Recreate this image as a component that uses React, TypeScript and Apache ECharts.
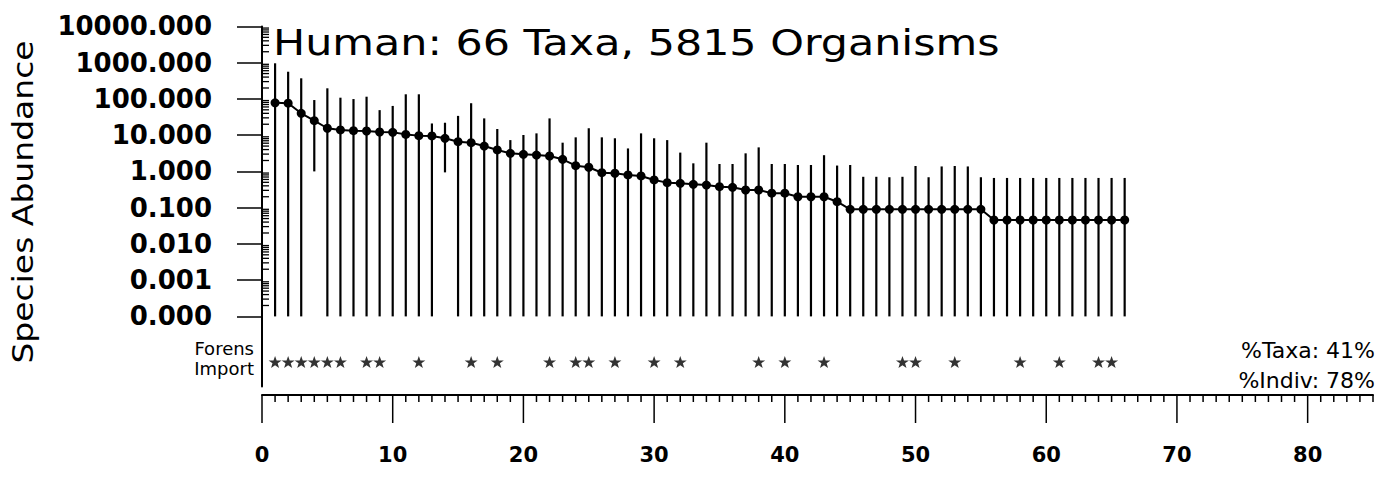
import React, { useEffect, useRef } from "react";
import * as echarts from "echarts";

// Rank of each taxon (1..66)
const ranks = [
  1, 2, 3, 4, 5, 6, 7, 8, 9, 10, 11, 12, 13, 14, 15, 16, 17, 18, 19, 20, 21, 22,
  23, 24, 25, 26, 27, 28, 29, 30, 31, 32, 33, 34, 35, 36, 37, 38, 39, 40, 41, 42,
  43, 44, 45, 46, 47, 48, 49, 50, 51, 52, 53, 54, 55, 56, 57, 58, 59, 60, 61, 62,
  63, 64, 65, 66,
];

// Median species abundance per rank
const medians = [
  78, 76, 40, 25, 15.5, 13.9, 13.3, 13.0, 12.2, 12.0, 10.5, 9.7, 9.5, 8.2, 6.6,
  6.2, 5.0, 3.9, 3.16, 2.96, 2.83, 2.66, 2.16, 1.44, 1.3, 0.92, 0.89, 0.8, 0.75,
  0.58, 0.49, 0.47, 0.44, 0.42, 0.38, 0.364, 0.307, 0.307, 0.25, 0.25, 0.2, 0.2,
  0.2, 0.146, 0.09, 0.09, 0.09, 0.09, 0.09, 0.09, 0.09, 0.09, 0.09, 0.09, 0.09,
  0.0456, 0.0456, 0.0456, 0.0456, 0.0456, 0.0456, 0.0456, 0.0456, 0.0456, 0.0456,
  0.0456,
];

// Upper end of range bar per rank
const upper = [
  960, 562, 370, 93, 196, 108, 99, 115, 49, 64, 134, 134, 21, 22, 34, 76, 29,
  14.8, 7.3, 10.1, 11.2, 29, 6.2, 8.7, 15.5, 8.7, 8.2, 4.3, 11.2, 8.2, 7.3, 3.3,
  1.67, 6.2, 1.6, 1.6, 3.15, 4.6, 1.6, 1.6, 1.5, 1.5, 2.8, 1.45, 1.5, 0.71, 0.71,
  0.69, 0.71, 1.41, 0.69, 1.37, 1.41, 1.37, 0.69, 0.66, 0.66, 0.66, 0.66, 0.66,
  0.66, 0.66, 0.66, 0.66, 0.66, 0.66,
];

// Lower end of range bar per rank
const lower = [
  0.0001, 0.0001, 0.0001, 1.0, 0.0001, 0.0001, 0.0001, 0.0001, 0.0001, 0.0001,
  0.0001, 0.0001, 0.0001, 0.94, 0.0001, 0.0001, 0.0001, 0.0001, 0.0001, 0.0001,
  0.0001, 0.0001, 0.0001, 0.0001, 0.0001, 0.0001, 0.0001, 0.0001, 0.0001, 0.0001,
  0.0001, 0.0001, 0.0001, 0.0001, 0.0001, 0.0001, 0.0001, 0.0001, 0.0001, 0.0001,
  0.0001, 0.0001, 0.0001, 0.0001, 0.0001, 0.0001, 0.0001, 0.0001, 0.0001, 0.0001,
  0.0001, 0.0001, 0.0001, 0.0001, 0.0001, 0.0001, 0.0001, 0.0001, 0.0001, 0.0001,
  0.0001, 0.0001, 0.0001, 0.0001, 0.0001, 0.0001,
];

// Ranks flagged as forensically important
const forensRanks = [
  1, 2, 3, 4, 5, 6, 8, 9, 12, 16, 18, 22, 24, 25, 27, 30, 32, 38, 40, 43, 49,
  50, 53, 58, 61, 64, 65,
];

const titleText = "Human: 66 Taxa, 5815 Organisms";
const yName = "Species Abundance";
const rowLabels = ["Forens", "Import"];
const summaryLabels = ["%Taxa: 41%", "%Indiv: 78%"];

const FONT = "DejaVu Sans";
const STAR =
  "path://M100 0 L123.5 67.6 L195.1 69.1 L138 112.4 L158.8 180.9 L100 140 L41.2 180.9 L62 112.4 L4.9 69.1 L76.5 67.6 Z";

export default function App() {
  const ref = useRef<HTMLDivElement>(null);

  useEffect(() => {
    if (!ref.current) return;
    const chart = echarts.init(ref.current, undefined, { renderer: "svg" });

    // log minor tick positions (2..9 x 10^k)
    const minorY: number[][] = [];
    for (let e = -4; e < 4; e++) {
      for (let m = 2; m <= 9; m++) minorY.push([0, m * Math.pow(10, e)]);
    }
    // bottom axis ticks every unit
    const bottomTicks: number[][] = [];
    for (let v = 0; v <= 85; v++) bottomTicks.push([v, 0]);

    const LEFT = 262;
    const WIDTH = 1111;

    const smallText = (text: string, x: number, y: number, size: number, align: string) => ({
      type: "text",
      x,
      y,
      style: {
        text,
        fontFamily: FONT,
        fontSize: size,
        fill: "#000",
        align,
        verticalAlign: "middle",
      },
    });

    const option: any = {
      animation: false,
      backgroundColor: "#fff",
      textStyle: { fontFamily: FONT },
      grid: [
        { left: LEFT, width: WIDTH, top: 26.4, height: 290 },
        { left: LEFT, width: WIDTH, top: 316.4, height: 70 },
        { left: LEFT, width: WIDTH, top: 394, height: 1 },
      ],
      xAxis: [
        { gridIndex: 0, type: "value", min: 0, max: 85, show: false },
        { gridIndex: 1, type: "value", min: 0, max: 85, show: false },
        {
          gridIndex: 2,
          type: "value",
          min: 0,
          max: 85,
          interval: 10,
          position: "bottom",
          axisLine: { show: true, lineStyle: { color: "#000", width: 2 } },
          axisTick: { show: false },
          splitLine: { show: false },
          axisLabel: {
            showMaxLabel: false,
            color: "#000",
            fontSize: 21,
            fontWeight: "bold",
            fontFamily: FONT,
            margin: 49,
          },
        },
      ],
      yAxis: [
        {
          gridIndex: 0,
          type: "log",
          logBase: 10,
          min: 0.0001,
          max: 10000,
          splitNumber: 8,
          axisLine: { show: true, lineStyle: { color: "#000", width: 2 } },
          axisTick: { show: true, length: 25, lineStyle: { color: "#000", width: 1.5 } },
          splitLine: { show: false },
          axisLabel: {
            color: "#000",
            fontSize: 26,
            fontWeight: "bold",
            fontFamily: FONT,
            margin: 50,
            formatter: (v: number) => v.toFixed(3),
          },
        },
        {
          gridIndex: 1,
          type: "value",
          min: 0,
          max: 1,
          axisLine: { show: true, lineStyle: { color: "#000", width: 2 } },
          axisTick: { show: false },
          axisLabel: { show: false },
          splitLine: { show: false },
        },
        { gridIndex: 2, type: "value", min: 0, max: 1, show: false },
      ],
      series: [
        {
          type: "custom",
          name: "range",
          xAxisIndex: 0,
          yAxisIndex: 0,
          encode: { x: 0, y: [1, 2] },
          data: ranks.map((r, i) => [r, lower[i], upper[i]]),
          renderItem: (params: any, api: any) => {
            const x = api.value(0);
            const p1 = api.coord([x, api.value(1)]);
            const p2 = api.coord([x, api.value(2)]);
            return {
              type: "line",
              shape: { x1: p1[0], y1: p1[1], x2: p2[0], y2: p2[1] },
              style: { stroke: "#000", lineWidth: 2.2 },
            };
          },
          z: 2,
        },
        {
          type: "line",
          name: "median",
          xAxisIndex: 0,
          yAxisIndex: 0,
          data: ranks.map((r, i) => [r, medians[i]]),
          symbol: "circle",
          symbolSize: 9,
          lineStyle: { color: "#000", width: 2 },
          itemStyle: { color: "#000" },
          z: 3,
        },
        {
          type: "custom",
          name: "minorY",
          xAxisIndex: 0,
          yAxisIndex: 0,
          data: minorY,
          renderItem: (params: any, api: any) => {
            const p = api.coord([api.value(0), api.value(1)]);
            return {
              type: "line",
              shape: { x1: p[0], y1: p[1], x2: p[0] + 7, y2: p[1] },
              style: { stroke: "#000", lineWidth: 1.3 },
            };
          },
          z: 4,
        },
        {
          type: "scatter",
          name: "forens",
          xAxisIndex: 1,
          yAxisIndex: 1,
          data: forensRanks.map((r) => [r, 0.35]),
          symbol: STAR,
          symbolSize: [13, 12],
          itemStyle: { color: "#000" },
        },
        {
          type: "custom",
          name: "xticks",
          xAxisIndex: 2,
          yAxisIndex: 2,
          data: bottomTicks,
          renderItem: (params: any, api: any) => {
            const v = api.value(0);
            const p = api.coord([v, 0]);
            const len = v % 10 === 0 ? 28 : 7;
            return {
              type: "line",
              shape: { x1: p[0], y1: p[1], x2: p[0], y2: p[1] + len },
              style: { stroke: "#000", lineWidth: 1.5 },
            };
          },
        },
      ],
      graphic: [
        {
          type: "text",
          x: 273,
          y: 42.5,
          scaleX: 1.19,
          style: {
            text: titleText,
            fontFamily: FONT,
            fontSize: 36,
            fill: "#000",
            align: "left",
            verticalAlign: "middle",
          },
        },
        {
          type: "text",
          x: 23,
          y: 202,
          rotation: Math.PI / 2,
          scaleX: 1.2,
          style: {
            text: yName,
            fontFamily: FONT,
            fontSize: 27.5,
            fill: "#000",
            align: "center",
            verticalAlign: "middle",
          },
        },
        smallText(rowLabels[0], 254, 348.5, 18, "right"),
        smallText(rowLabels[1], 254, 368, 18, "right"),
        smallText(summaryLabels[0], 1375, 350, 22, "right"),
        smallText(summaryLabels[1], 1375, 380, 22, "right"),
      ],
    };

    chart.setOption(option);
    return () => chart.dispose();
  }, []);

  return (
    <div
      ref={ref}
      style={{ position: "absolute", left: 0, top: 0, width: 1389, height: 479 }}
    />
  );
}
